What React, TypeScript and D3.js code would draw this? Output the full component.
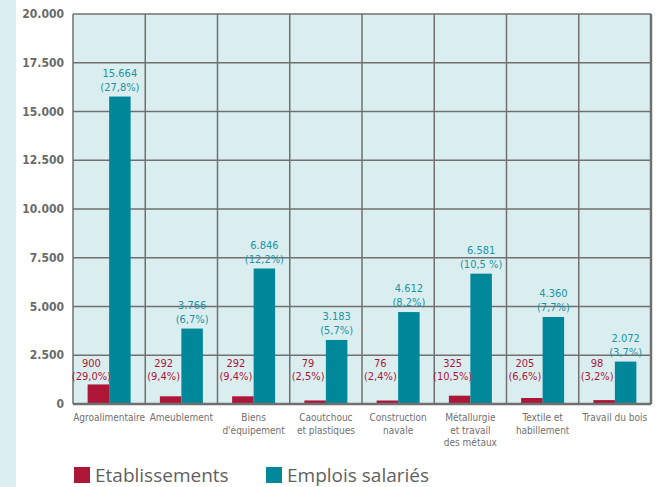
import React from "react";
import * as d3 from "d3";

const categories = [
  ["Agroalimentaire"],
  ["Ameublement"],
  ["Biens", "d'équipement"],
  ["Caoutchouc", "et plastiques"],
  ["Construction", "navale"],
  ["Métallurgie", "et travail", "des métaux"],
  ["Textile et", "habillement"],
  ["Travail du bois"],
];
const etablissements = [900, 292, 292, 79, 76, 325, 205, 98];
const etabLabels = ["900", "292", "292", "79", "76", "325", "205", "98"];
const etabPct = ["(29,0%)", "(9,4%)", "(9,4%)", "(2,5%)", "(2,4%)", "(10,5%)", "(6,6%)", "(3,2%)"];
const emplois = [15664, 3766, 6846, 3183, 4612, 6581, 4360, 2072];
const emploisLabels = ["15.664", "3.766", "6.846", "3.183", "4.612", "6.581", "4.360", "2.072"];
const emploisPct = ["(27,8%)", "(6,7%)", "(12,2%)", "(5,7%)", "(8,2%)", "(10,5 %)", "(7,7%)", "(3,7%)"];
const yTicks = [0, 2500, 5000, 7500, 10000, 12500, 15000, 17500, 20000];
const seriesNames = ["Etablissements", "Emplois salariés"];

const RED = "#ae1638";
const TEAL = "#00889a";
const TEAL_TXT = "#1b93a6";
const GRID = "#707070";
const FONT = "'DejaVu Sans Condensed', 'DejaVu Sans', sans-serif";

export default function App() {
  const W = 667, H = 487;
  const left = 73, right = 651, top = 14, bottom = 404;
  const x = d3.scaleBand<number>().domain(d3.range(categories.length)).range([left, right]);
  const y = d3.scaleLinear().domain([0, 20000]).range([bottom, top]);
  const bw = 21.5;
  const lift = 2;
  const fmt = (v: number) => (v === 0 ? "0" : d3.format(",")(v).replace(/,/g, "."));

  return (
    <svg width={W} height={H} style={{ position: "absolute", left: 0, top: 0 }} fontFamily={FONT}>
      <rect x={0} y={0} width={W} height={H} fill="#fff" />
      <rect x={0} y={0} width={16} height={H} fill="#d9eef0" />
      <rect x={left} y={top} width={right - left} height={bottom - top} fill="#daeef0" />
      {yTicks.filter((t) => t > 0).map((t) => (
        <line key={t} x1={left} x2={right} y1={y(t)} y2={y(t)} stroke={GRID} strokeWidth={1.5} />
      ))}
      {d3.range(categories.length + 1).map((i) => {
        const xv = i < categories.length ? x(i)! : right;
        return (
          <line key={i} x1={xv} x2={xv} y1={top} y2={bottom} stroke={GRID} strokeWidth={i === categories.length ? 2.5 : 1.5} />
        );
      })}
      {categories.map((c, i) => {
        const cx = x(i)! + x.bandwidth() / 2;
        const rx = cx - bw;
        const tx = cx;
        return (
          <g key={i}>
            <rect x={rx} y={y(etablissements[i]) - lift} width={bw} height={bottom - y(etablissements[i]) + lift} fill={RED} />
            <rect x={tx} y={y(emplois[i]) - lift} width={bw} height={bottom - y(emplois[i]) + lift} fill={TEAL} />
            <text x={rx + bw / 2 - 7} y={367} textAnchor="middle" fontSize={11} fill={RED}>{etabLabels[i]}</text>
            <text x={rx + bw / 2 - 7} y={380} textAnchor="middle" fontSize={11} fill={RED}>{etabPct[i]}</text>
            <text x={tx + bw / 2} y={y(emplois[i]) - lift - 20} textAnchor="middle" fontSize={11} fill={TEAL_TXT}>{emploisLabels[i]}</text>
            <text x={tx + bw / 2} y={y(emplois[i]) - lift - 6} textAnchor="middle" fontSize={11} fill={TEAL_TXT}>{emploisPct[i]}</text>
            {c.map((line, j) => (
              <text key={j} x={cx} y={421 + j * 12.5} textAnchor="middle" fontSize={10} fill="#707070">{line}</text>
            ))}
          </g>
        );
      })}
      <line x1={left} x2={right} y1={bottom} y2={bottom} stroke={GRID} strokeWidth={2.5} />
      {yTicks.map((t) => (
        <text key={t} x={64} y={y(t)} dy="0.35em" textAnchor="end" fontSize={12} fontWeight="bold" fill="#6a6a6a">
          {fmt(t)}
        </text>
      ))}
      <rect x={74} y={467} width={16} height={16} fill={RED} />
      <text x={95} y={482} fontSize={19} fill="#5f5f5f" fontFamily="'Open Sans', sans-serif">{seriesNames[0]}</text>
      <rect x={266} y={467} width={16} height={16} fill={TEAL} />
      <text x={287} y={482} fontSize={19} fill="#5f5f5f" fontFamily="'Open Sans', sans-serif">{seriesNames[1]}</text>
    </svg>
  );
}
